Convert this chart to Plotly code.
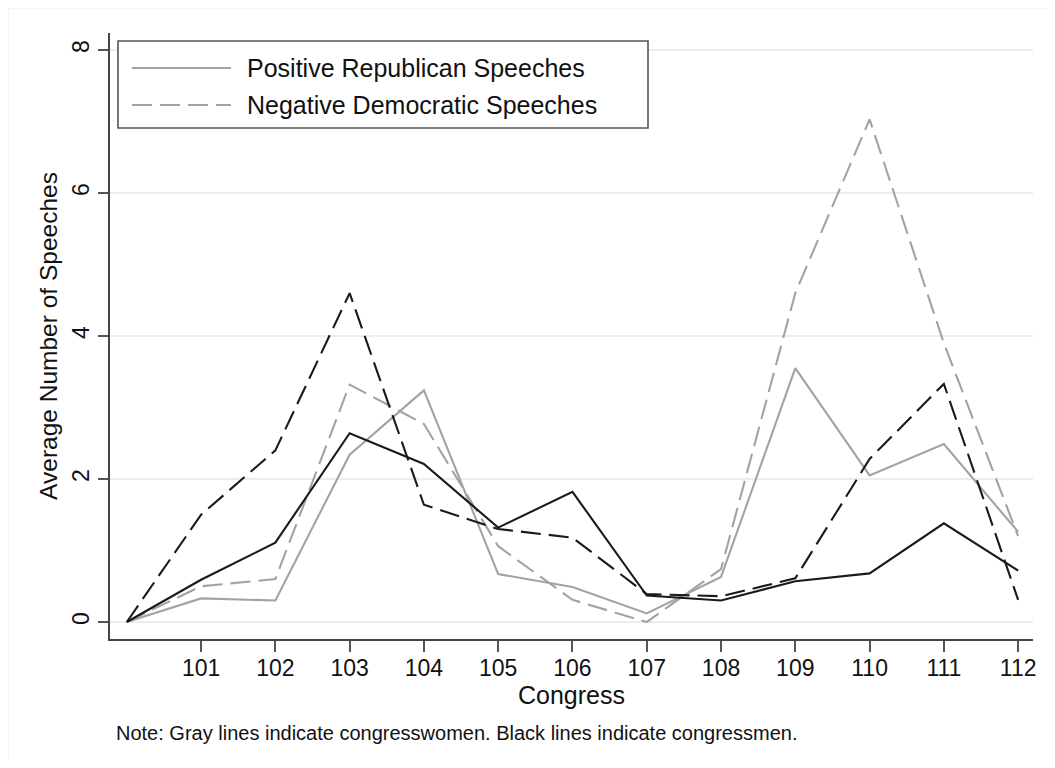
import plotly.graph_objects as go

# ---- data ----
congress = [100, 101, 102, 103, 104, 105, 106, 107, 108, 109, 110, 111, 112]
women_positive_rep = [0.00, 0.33, 0.30, 2.34, 3.24, 0.67, 0.49, 0.12, 0.63, 3.55, 2.05, 2.49, 1.26]
women_negative_dem = [0.00, 0.50, 0.60, 3.32, 2.77, 1.06, 0.31, 0.00, 0.74, 4.60, 7.03, 3.90, 1.20]
men_positive_rep = [0.00, 0.59, 1.11, 2.64, 2.21, 1.32, 1.82, 0.37, 0.30, 0.57, 0.68, 1.38, 0.72]
men_negative_dem = [0.00, 1.50, 2.40, 4.60, 1.64, 1.30, 1.18, 0.39, 0.36, 0.61, 2.28, 3.33, 0.31]
x_ticks = [101, 102, 103, 104, 105, 106, 107, 108, 109, 110, 111, 112]
y_ticks = [0, 2, 4, 6, 8]
legend_labels = ["Positive Republican Speeches", "Negative Democratic Speeches"]
note_text = "Note: Gray lines indicate congresswomen. Black lines indicate congressmen."

GRAY = "#a3a3a3"
BLACK = "#1a1a1a"
DASH = "20px,8px"
FONT = "Liberation Sans, Arial, Helvetica, sans-serif"
TXT = "#111111"

OFF = 8  # page body margin
W, H = 1055 - 2 * OFF, 768 - 2 * OFF
# plot area in page pixels: x 110..1033, y 33..639
L = 110 - OFF
T = 33 - OFF
R = W - (1033 - OFF)
B = H - (639 - OFF)
PW, PH = W - L - R, H - T - B

def px_x(p):  # page pixel -> paper x
    return (p - OFF - L) / PW

def px_y(p):  # page pixel -> paper y
    return (H - B - (p - OFF)) / PH

fig = go.Figure()
series = [
    (women_positive_rep, GRAY, "solid", legend_labels[0]),
    (women_negative_dem, GRAY, DASH, legend_labels[1]),
    (men_positive_rep, BLACK, "solid", "Positive Republican Speeches (men)"),
    (men_negative_dem, BLACK, DASH, "Negative Democratic Speeches (men)"),
]
for vals, col, dash, name in series:
    fig.add_trace(go.Scatter(
        x=congress, y=vals, mode="lines", name=name,
        line=dict(color=col, width=2.1, dash=dash),
        showlegend=False,
    ))

shapes = []
# faint outer frame (only top and left fall inside the view)
shapes.append(dict(type="rect", xref="paper", yref="paper",
                   x0=px_x(8.5), x1=px_x(1070), y0=px_y(790), y1=px_y(8.5),
                   line=dict(color="#f1f5f5", width=1.5), layer="below"))
# legend box
shapes.append(dict(type="rect", xref="paper", yref="paper",
                   x0=px_x(118), x1=px_x(648), y0=px_y(128), y1=px_y(41),
                   line=dict(color="#555555", width=1.6), fillcolor="white", layer="above"))
rows = [(68, "solid"), (105, DASH)]
annotations = []
for (ry, dash), lab in zip(rows, legend_labels):
    shapes.append(dict(type="line", xref="paper", yref="paper",
                       x0=px_x(132), x1=px_x(231), y0=px_y(ry), y1=px_y(ry),
                       line=dict(color=GRAY, width=2, dash=dash), layer="above"))
    annotations.append(dict(xref="paper", yref="paper", x=px_x(245), y=px_y(ry),
                            text=lab, showarrow=False, xanchor="left", yanchor="middle",
                            font=dict(family=FONT, size=25, color=TXT)))
annotations.append(dict(xref="paper", yref="paper", x=px_x(114), y=px_y(733),
                        text=note_text, showarrow=False, xanchor="left", yanchor="middle",
                        font=dict(family=FONT, size=20, color=TXT)))

fig.update_layout(
    width=W, height=H,
    margin=dict(l=L, r=R, t=T, b=B, pad=0),
    paper_bgcolor="white", plot_bgcolor="white",
    font=dict(family=FONT, color=TXT),
    shapes=shapes, annotations=annotations,
    showlegend=False,
    xaxis=dict(
        range=[99.774, 112.2], tickmode="array", tickvals=x_ticks,
        ticktext=[str(v) for v in x_ticks],
        showgrid=False, zeroline=False,
        showline=True, linecolor="#444444", linewidth=1.6,
        ticks="outside", ticklen=11, tickwidth=1.6, tickcolor="#555555",
        ticklabelstandoff=-3,
        tickfont=dict(family=FONT, size=23, color=TXT),
        title=dict(text="Congress", font=dict(family=FONT, size=25, color=TXT), standoff=2),
    ),
    yaxis=dict(
        range=[-0.238, 8.238], tickmode="array", tickvals=y_ticks,
        ticktext=[str(v) for v in y_ticks], tickangle=-90,
        showgrid=True, gridcolor="#e6eff1", gridwidth=1.6, zeroline=False,
        showline=True, linecolor="#444444", linewidth=1.6,
        ticks="outside", ticklen=10, tickwidth=1.6, tickcolor="#555555",
        tickfont=dict(family=FONT, size=23, color=TXT),
        title=dict(text="Average Number of Speeches", font=dict(family=FONT, size=24.5, color=TXT), standoff=3),
    ),
)

fig.write_html("out.html")
